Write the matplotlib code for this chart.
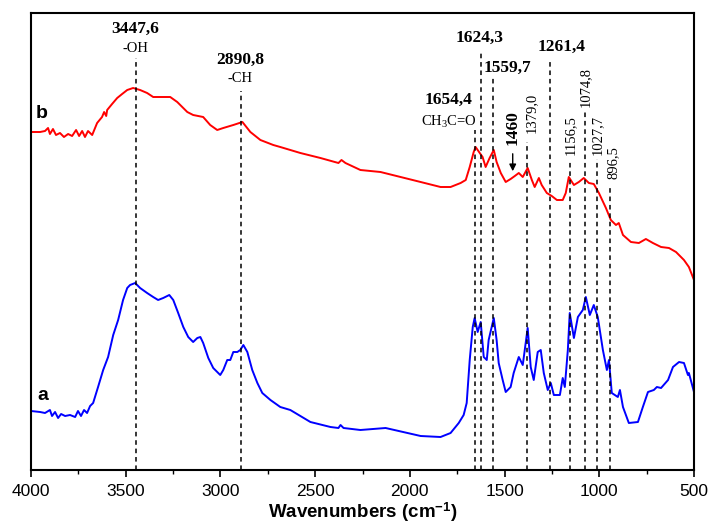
import matplotlib
matplotlib.use('Agg')
import matplotlib.pyplot as plt

plt.rcParams['font.family'] = 'Liberation Sans'
plt.rcParams['mathtext.fontset'] = 'custom'
plt.rcParams['mathtext.rm'] = 'Liberation Serif'
plt.rcParams['mathtext.it'] = 'Liberation Serif:italic'
plt.rcParams['mathtext.bf'] = 'Liberation Sans:bold'

# spectrum b (red), wavenumber / intensity (a.u.)
wn_b = [4000, 3952, 3926, 3910, 3900, 3884, 3868, 3847, 3826, 3804, 3783, 3762, 3746,
        3730, 3715, 3699, 3677, 3651, 3625, 3614, 3603, 3598, 3572, 3545, 3519, 3492,
        3461, 3424, 3387, 3355, 3265, 3228, 3175, 3144, 3091, 3054, 3017, 2985, 2932,
        2884, 2842, 2789, 2721, 2684, 2578, 2472, 2377, 2361, 2340, 2261, 2155, 2049,
        1943, 1838, 1785, 1732, 1705, 1684, 1663, 1653, 1631, 1616, 1600, 1579, 1557,
        1542, 1520, 1494, 1468, 1446, 1425, 1404, 1378, 1356, 1341, 1319, 1304, 1277,
        1251, 1224, 1193, 1177, 1161, 1134, 1108, 1082, 1055, 1029, 1002, 965, 939,
        912, 897, 875, 833, 791, 754, 717, 674, 632, 595, 553, 527, 500]
int_b = [338, 338, 339, 342, 336, 341, 335, 337, 333, 336, 334, 340, 334,
         339, 333, 339, 335, 347, 353, 358, 354, 360, 366, 372, 376, 380,
         382, 380, 377, 373, 373, 368, 358, 355, 353, 345, 340, 342, 345,
         348, 338, 330, 325, 323, 317, 312, 307, 310, 307, 300, 298, 293,
         288, 283, 283, 287, 290, 303, 318, 323, 317, 313, 303, 312, 320,
         308, 297, 288, 291, 294, 297, 293, 302, 290, 283, 292, 285, 277,
         274, 270, 270, 277, 293, 285, 288, 292, 287, 286, 277, 262, 250,
         245, 247, 235, 228, 227, 231, 227, 223, 222, 218, 210, 203, 190]

# spectrum a (blue)
wn_a = [4000, 3952, 3926, 3900, 3889, 3873, 3857, 3841, 3820, 3794, 3767, 3752, 3736,
        3720, 3704, 3688, 3672, 3646, 3619, 3593, 3566, 3540, 3514, 3492, 3477, 3450,
        3424, 3387, 3355, 3329, 3302, 3270, 3249, 3223, 3196, 3170, 3144, 3122, 3106,
        3091, 3064, 3038, 3001, 2985, 2964, 2948, 2932, 2911, 2895, 2879, 2858, 2832,
        2805, 2779, 2736, 2684, 2631, 2525, 2419, 2377, 2366, 2350, 2261, 2128, 1943,
        1838, 1785, 1742, 1716, 1700, 1684, 1668, 1658, 1642, 1626, 1610, 1594, 1584,
        1557, 1542, 1531, 1510, 1494, 1468, 1452, 1425, 1404, 1378, 1362, 1346, 1325,
        1309, 1293, 1272, 1256, 1240, 1208, 1193, 1182, 1166, 1156, 1134, 1113, 1087,
        1071, 1050, 1029, 1008, 981, 960, 949, 934, 902, 891, 875, 844, 796, 770, 743,
        712, 696, 674, 637, 611, 579, 553, 532, 527, 500]
int_a = [59, 58, 57, 60, 54, 58, 52, 56, 54, 55, 53, 59, 54,
         60, 57, 64, 67, 83, 100, 113, 135, 150, 170, 182, 185, 187,
         182, 177, 173, 170, 172, 175, 170, 157, 143, 133, 128, 132, 133,
         127, 112, 102, 95, 100, 110, 110, 118, 118, 120, 125, 118, 100,
         87, 77, 70, 63, 60, 48, 43, 42, 45, 42, 40, 42, 34,
         33, 37, 47, 55, 67, 110, 143, 152, 138, 148, 113, 110, 130,
         152, 130, 107, 90, 78, 83, 97, 113, 105, 142, 103, 90, 118,
         120, 97, 80, 87, 75, 75, 92, 83, 120, 157, 132, 153, 160,
         173, 155, 165, 153, 120, 100, 110, 77, 73, 80, 63, 47, 48, 63,
         78, 80, 83, 82, 90, 103, 108, 107, 95, 97, 78]

# marked bands: position, top of dashed line
band_pos = [3447.6, 2890.8, 1654.4, 1624.3, 1559.7, 1379.0, 1261.4, 1156.5, 1074.8, 1013, 946]
band_top = [412, 379, 340, 419, 394, 328, 411, 310, 358, 311, 285]

# horizontal labels: text, x, y, bold, size
flat_labels = [
    ('3447,6', 3447.6, 441, True, 12.5),
    ('-OH', 3447.6, 422, False, 10.5),
    ('2890,8', 2895, 410, True, 12.5),
    ('-CH', 2895, 391, False, 10.5),
    ('1654,4', 1795, 370, True, 12.5),
    (r'CH$\mathrm{_3}$C=O', 1795, 348, False, 10.5),
    ('1624,3', 1631, 432, True, 12.5),
    ('1559,7', 1483, 402, True, 12.5),
    ('1261,4', 1198, 423, True, 12.5),
]
# rotated labels
rot_labels = [
    ('1379,0', 1357, 357),
    ('1156,5', 1152, 335),
    ('1074,8', 1071, 383),
    ('1027,7', 1008, 335),
    ('896,5', 928, 307),
]

fig = plt.figure(figsize=(7.1, 5.3), dpi=100)
ax = fig.add_axes([31 / 710, 60 / 530, 663 / 710, 457 / 530])

ax.plot(wn_b, int_b, color='#ff0000', lw=1.4)
ax.plot(wn_a, int_a, color='#0000ff', lw=1.4)

for p, t in zip(band_pos, band_top):
    ax.plot([p, p], [0, t], color='black', lw=1.1, ls=(0, (3, 2.5)))

for txt, x, y, bold, size in flat_labels:
    ax.text(x, y, txt, ha='center', va='center', family='Liberation Serif',
            fontweight='bold' if bold else 'normal', fontsize=size)

for txt, x, y in rot_labels:
    ax.text(x, y, txt, ha='center', va='center', rotation=90,
            family='Liberation Serif', fontsize=10.5)

ax.text(1457, 342, '1460', ha='center', va='center', rotation=90,
        family='Liberation Serif', fontweight='bold', fontsize=12.5)
ax.annotate('', xy=(1457, 296), xytext=(1457, 319),
            arrowprops=dict(arrowstyle='-|>', color='black', lw=1.0,
                            mutation_scale=10))

ax.text(3945, 357, 'b', ha='center', va='center', fontweight='bold', fontsize=14)
ax.text(3940, 75, 'a', ha='center', va='center', fontweight='bold', fontsize=14)

ax.set_xlim(4000, 500)
ax.set_ylim(0, 457)
ax.set_xticks([4000, 3500, 3000, 2500, 2000, 1500, 1000, 500])
ax.set_xticks(range(750, 4000, 500), minor=True)
ax.set_yticks([])
ax.tick_params(axis='x', which='major', direction='out', length=5, width=1.2,
               labelsize=12.5, pad=5)
ax.tick_params(axis='x', which='minor', direction='out', length=3, width=1.0)
for s in ax.spines.values():
    s.set_linewidth(1.5)

ax.set_xlabel(r'Wavenumbers (cm$^{\mathbf{-1}}$)', fontsize=13.5,
              fontweight='bold', labelpad=1)

fig.savefig('out.png', dpi=100)
